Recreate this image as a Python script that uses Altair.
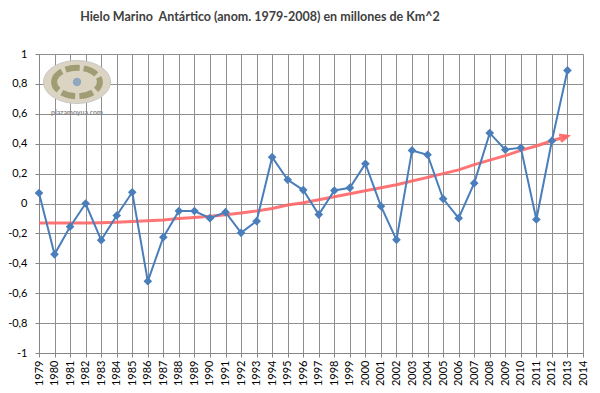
import altair as alt
import pandas as pd

# ---- data ----
years = list(range(1979, 2014))
anomaly = [0.07, -0.34, -0.155, 0.0, -0.245, -0.08, 0.075, -0.52, -0.225, -0.05,
           -0.05, -0.098, -0.058, -0.196, -0.118, 0.31, 0.159, 0.09, -0.074, 0.087,
           0.105, 0.266, -0.018, -0.243, 0.355, 0.326, 0.031, -0.098, 0.136, 0.471,
           0.36, 0.373, -0.107, 0.42, 0.89]
trend = [-0.13, -0.13, -0.13, -0.13, -0.128, -0.125, -0.12, -0.115, -0.11, -0.10,
         -0.093, -0.085, -0.075, -0.063, -0.05, -0.033, -0.01, 0.005, 0.025, 0.045,
         0.065, 0.085, 0.105, 0.125, 0.15, 0.175, 0.20, 0.225, 0.26, 0.29,
         0.32, 0.355, 0.385, 0.42, 0.45]
x_ticks = list(range(1979, 2015))
y_ticks = [-1, -0.8, -0.6, -0.4, -0.2, 0, 0.2, 0.4, 0.6, 0.8, 1]
title_text = "Hielo Marino\u00a0 Antártico (anom. 1979-2008) en millones de Km^2"
watermark = "plazamoyua.com"

df = pd.DataFrame({"year": years, "anomaly": anomaly, "trend": trend})
last = df.tail(1)
dummy = pd.DataFrame({"k": [0]})

FONT = "Lato"
BLUE = "#4a7ebb"
RED = "#ff6666"

x_axis = alt.Axis(values=x_ticks, format="d", labelAngle=270, labelAlign="right",
                  labelBaseline="middle", title=None, grid=True, tickSize=4,
                  labelPadding=3, labelFont=FONT, labelFontSize=11,
                  labelColor="#000000", labelOverlap=False, labelFlush=False)
x_scale = alt.Scale(domain=[1979, 2014], nice=False, zero=False)
y_scale = alt.Scale(domain=[-1, 1], nice=False, zero=False)
y_axis = alt.Axis(values=y_ticks, title=None, grid=True, tickSize=4, labelPadding=8,
                  labelFont=FONT, labelFontSize=11, labelColor="#000000",
                  labelOverlap=False, labelFlush=False,
                  labelExpr="replace(toString(round(datum.value*10)/10), '.', ',')")


def X():
    return alt.X("year:Q", scale=x_scale, axis=x_axis)


def Y(field):
    return alt.Y(field, type="quantitative", scale=y_scale, axis=y_axis)


base = alt.Chart(df)

trend_line = base.mark_line(color=RED, strokeWidth=3, opacity=0.9).encode(
    x=X(), y=Y("trend")
)
arrow = alt.Chart(last).mark_point(
    shape="M-2,-0.9 L0,0 L-2,0.9", filled=False, stroke=RED, strokeWidth=3,
    size=60, angle=344, opacity=0.9
).encode(x=X(), y=Y("trend"))

line = base.mark_line(color=BLUE, strokeWidth=2).encode(x=X(), y=Y("anomaly"))
points = base.mark_point(shape="diamond", filled=True, color=BLUE, size=75, opacity=1).encode(
    x=X(), y=Y("anomaly")
)

# watermark logo (decoration)
logo_outer = alt.Chart(dummy).mark_point(
    shape="M-1,0 A1,0.64 0 1,1 1,0 A1,0.64 0 1,1 -1,0 Z",
    filled=True, fill="#dcd4c2", stroke="#c8c8c8", strokeWidth=1, size=4489, opacity=1
).encode(x=alt.value(38), y=alt.value(28))
logo_ring = alt.Chart(dummy).mark_point(
    shape="M-1,0 A1,0.62 0 1,1 1,0 A1,0.62 0 1,1 -1,0 Z",
    filled=False, stroke="#8c8a5a", strokeWidth=6, size=2100, opacity=0.75,
    strokeDash=[14, 4]
).encode(x=alt.value(38), y=alt.value(28))
logo_center = alt.Chart(dummy).mark_point(
    shape="circle", filled=True, color="#8fa8bf", size=70, opacity=1
).encode(x=alt.value(38), y=alt.value(28))
logo_text = alt.Chart(dummy).mark_text(
    text=watermark, font=FONT, fontSize=7, fontWeight="bold", color="#888888"
).encode(x=alt.value(38), y=alt.value(59))

chart = alt.layer(
    trend_line, arrow, line, points, logo_outer, logo_ring, logo_center, logo_text
).properties(
    width=544, height=299,
    title=alt.TitleParams(title_text, font=FONT, fontSize=12.5, fontWeight="bold",
                          color="#404040", anchor="middle", dx=-51, offset=25,
                          frame="group"),
    autosize=alt.AutoSizeParams(type="none"),
    padding={"left": 31, "top": 46, "right": 8, "bottom": 38},
).configure_view(stroke=None).configure_axis(
    gridColor="#8f8f8f", gridWidth=1, domainColor="#868686", tickColor="#868686"
)

chart.save("out.html", embed_options={"renderer": "svg", "actions": False})
